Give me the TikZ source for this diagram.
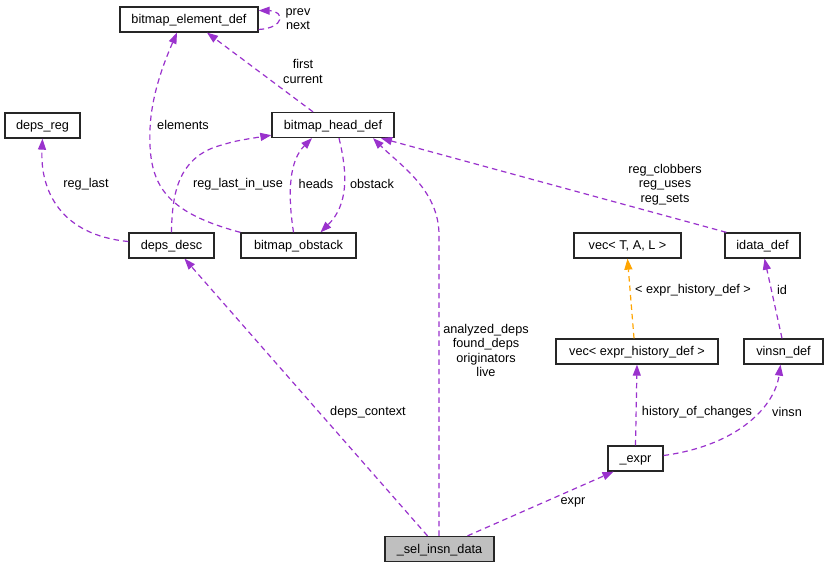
\documentclass[tikz,border=0pt]{standalone}
\usepackage{fontspec}
\setmainfont{Liberation Sans}
\usetikzlibrary{arrows.meta}
\definecolor{edgepurple}{HTML}{9A32CD}
\definecolor{edgeorange}{HTML}{FFA500}
\definecolor{mainfill}{HTML}{BFBFBF}
\begin{document}
\begin{tikzpicture}[x=1pt,y=-1pt,
 cls/.style={draw=black!85,line width=1.3pt,minimum height=25pt,inner sep=0pt,text height=10pt,text depth=1.6pt,font=\fontsize{12.7}{15}\selectfont},
 lbl/.style={font=\fontsize{12.7}{14.4}\selectfont,align=center,inner sep=0pt},
 edge/.style={draw=edgepurple,line width=1.2pt,dash pattern=on 5.5pt off 4pt,-{Triangle[length=11pt,width=8pt]}},
 tedge/.style={edge,draw=edgeorange}]
\useasboundingbox (0,0) rectangle (829,568);
\fill[white] (0,0) rectangle (829,568);
% classes
\node[cls,minimum width=138pt] (bed) at (189,19.5) {bitmap\_element\_def};
\node[cls,minimum width=122pt] (bhd) at (333,125) {bitmap\_head\_def};
\node[cls,minimum width=75pt] (dreg) at (42.5,125.5) {deps\_reg};
\node[cls,minimum width=85pt] (ddesc) at (171.5,245.5) {deps\_desc};
\node[cls,minimum width=115pt] (bobs) at (298.5,245.5) {bitmap\_obstack};
\node[cls,minimum width=109pt,fill=mainfill] (sel) at (439.5,549) {\_sel\_insn\_data};
\node[cls,minimum width=55pt] (expr) at (635.5,458.5) {\_expr};
\node[cls,minimum width=107pt] (vtal) at (627.5,245.5) {vec< T, A, L >};
\node[cls,minimum width=75pt] (idata) at (762.5,245.5) {idata\_def};
\node[cls,minimum width=162pt] (vehd) at (637,351.5) {vec< expr\_history\_def >};
\node[cls,minimum width=79pt] (vinsn) at (783.5,351.5) {vinsn\_def};
% edges
\draw[edge] ([yshift=-10pt]bed.east) .. controls (285,28) and (285,11) .. ([yshift=9pt]bed.east);
\draw[edge] ([xshift=-20pt]bhd.north) -- ([xshift=18pt]bed.south);
\draw[edge] (bobs.north west) .. controls (165,212) and (148,185) .. (150,130) .. controls (151,95) and (165,60) .. ([xshift=-12pt]bed.south);
\draw[edge] (ddesc.north) .. controls (172,190) and (180,160) .. (215,147) .. controls (235,141) .. ([yshift=3pt]bhd.south west);
\draw[edge] ([xshift=-5pt]bobs.north) .. controls (287,190) and (290,160) .. ([xshift=-21pt]bhd.south);
\draw[edge] ([xshift=6pt]bhd.south) .. controls (348,175) and (348,205) .. ([xshift=22pt]bobs.north);
\draw[edge] ([yshift=4pt]ddesc.west) .. controls (60,235) and (40,190) .. (dreg.south);
\draw[edge] ([xshift=-12pt]sel.north) -- ([xshift=13pt]ddesc.south);
\draw[edge] ([xshift=-0.5pt]sel.north) -- (439,235) .. controls (439,190) and (400,165) .. ([xshift=40pt]bhd.south);
\draw[edge] ([xshift=2pt]idata.north west) -- ([xshift=48pt]bhd.south);
\draw[edge] (expr.north) -- (vehd.south);
\draw[edge] ([yshift=3pt]expr.east) .. controls (740,445) and (775,405) .. ([xshift=-3pt]vinsn.south);
\draw[edge] ([xshift=-1.5pt]vinsn.north) -- ([xshift=2pt]idata.south);
\draw[tedge] ([xshift=-3pt]vehd.north) -- (vtal.south);
\draw[edge] ([xshift=28pt]sel.north) -- ([xshift=-22pt]expr.south);
% labels
\node[lbl] (lprev) at (298,19) {prev\\next};
\node[lbl] (lfirst) at (303,71.5) {first\\current};
\node[lbl] (lelem) at (183,125) {elements};
\node[lbl] (lreglast) at (86,184) {reg\_last};
\node[lbl] (lrliu) at (238,184) {reg\_last\_in\_use};
\node[lbl] (lheads) at (316,184) {heads};
\node[lbl] (lobst) at (372,184) {obstack};
\node[lbl] (lregs) at (665,184.5) {reg\_clobbers\\reg\_uses\\reg\_sets};
\node[lbl] (ltmpl) at (693,290) {< expr\_history\_def >};
\node[lbl] (lid) at (782,290) {id};
\node[lbl] (ldeps) at (486,350.5) {analyzed\_deps\\found\_deps\\originators\\live};
\node[lbl] (lhist) at (697,412) {history\_of\_changes};
\node[lbl] (lvinsn) at (787,412) {vinsn};
\node[lbl] (lctx) at (368,412) {deps\_context};
\node[lbl] (lexpr) at (573,502) {expr};
\end{tikzpicture}
\end{document}
